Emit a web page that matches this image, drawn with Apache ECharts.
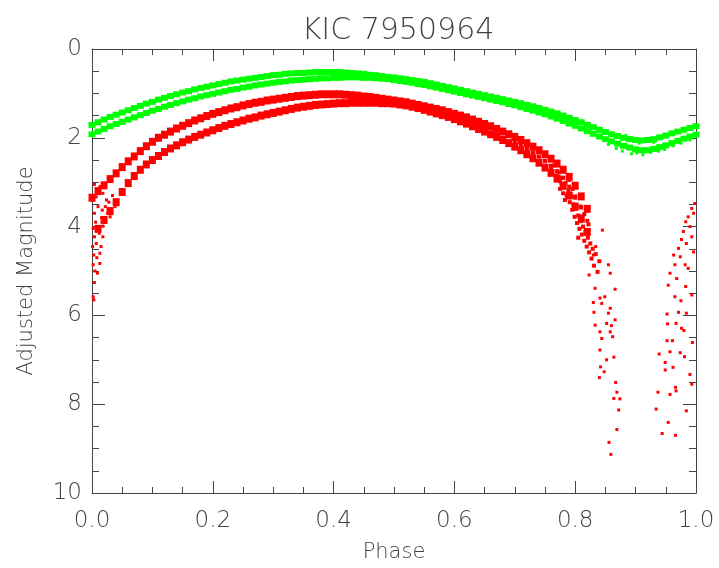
<!DOCTYPE html>
<html>
<head>
<meta charset="utf-8">
<script src="https://cdn.jsdelivr.net/npm/echarts@6/dist/echarts.min.js"></script>
<style>
  html, body { margin: 0; padding: 0; background: #fff; }
  #chart { width: 719px; height: 568px; }
</style>
</head>
<body>
<div id="chart"></div>
<script>
// Phase-folded light curve of KIC 7950964: two passbands, each with two tracks.
const chartTitle = 'KIC 7950964';
const xName = 'Phase';
const yName = 'Adjusted Magnitude';
const xTickValues = [0.0, 0.2, 0.4, 0.6, 0.8, 1.0];
const yTickValues = [0, 2, 4, 6, 8, 10];

// Green passband, brighter track: [phase, magnitude]
const greenUpper = [
  [0.00,1.71],[0.01,1.65],[0.02,1.59],[0.03,1.53],[0.04,1.48],[0.05,1.43],[0.06,1.38],[0.07,1.33],[0.08,1.28],[0.09,1.23],
  [0.10,1.19],[0.11,1.14],[0.12,1.10],[0.13,1.06],[0.14,1.02],[0.15,0.98],[0.16,0.95],[0.17,0.91],[0.18,0.88],[0.19,0.85],
  [0.20,0.82],[0.21,0.79],[0.22,0.76],[0.23,0.73],[0.24,0.71],[0.25,0.69],[0.26,0.67],[0.27,0.65],[0.28,0.63],[0.29,0.61],
  [0.30,0.59],[0.31,0.58],[0.32,0.56],[0.33,0.55],[0.34,0.54],[0.35,0.54],[0.36,0.53],[0.37,0.52],[0.38,0.52],[0.39,0.52],
  [0.40,0.52],[0.41,0.52],[0.42,0.53],[0.43,0.54],[0.44,0.55],[0.45,0.56],[0.46,0.58],[0.47,0.59],[0.48,0.61],[0.49,0.63],
  [0.50,0.64],[0.51,0.66],[0.52,0.68],[0.53,0.70],[0.54,0.72],[0.55,0.74],[0.56,0.77],[0.57,0.80],[0.58,0.83],[0.59,0.86],
  [0.60,0.89],[0.61,0.92],[0.62,0.95],[0.63,0.98],[0.64,1.01],[0.65,1.04],[0.66,1.07],[0.67,1.10],[0.68,1.13],[0.69,1.16],
  [0.70,1.19],[0.71,1.22],[0.72,1.26],[0.73,1.29],[0.74,1.33],[0.75,1.37],[0.76,1.41],[0.77,1.45],[0.78,1.50],[0.79,1.55],
  [0.80,1.60],[0.81,1.65],[0.82,1.71],[0.83,1.76],[0.84,1.82],[0.85,1.87],[0.86,1.92],[0.87,1.96],[0.88,2.00],[0.89,2.03],
  [0.90,2.05],[0.91,2.06],[0.92,2.05],[0.93,2.03],[0.94,1.99],[0.95,1.95],[0.96,1.90],[0.97,1.86],[0.98,1.82],[0.99,1.78],
  [1.00,1.74]
];

// Green passband, fainter track
const greenLower = [
  [0.00,1.92],[0.01,1.86],[0.02,1.80],[0.03,1.74],[0.04,1.69],[0.05,1.64],[0.06,1.59],[0.07,1.54],[0.08,1.49],[0.09,1.44],
  [0.10,1.39],[0.11,1.35],[0.12,1.30],[0.13,1.26],[0.14,1.22],[0.15,1.18],[0.16,1.14],[0.17,1.11],[0.18,1.07],[0.19,1.04],
  [0.20,1.01],[0.21,0.98],[0.22,0.95],[0.23,0.92],[0.24,0.90],[0.25,0.87],[0.26,0.85],[0.27,0.82],[0.28,0.80],[0.29,0.78],
  [0.30,0.76],[0.31,0.74],[0.32,0.73],[0.33,0.71],[0.34,0.70],[0.35,0.69],[0.36,0.68],[0.37,0.67],[0.38,0.66],[0.39,0.66],
  [0.40,0.65],[0.41,0.65],[0.42,0.64],[0.43,0.64],[0.44,0.64],[0.45,0.65],[0.46,0.65],[0.47,0.66],[0.48,0.67],[0.49,0.68],
  [0.50,0.70],[0.51,0.72],[0.52,0.74],[0.53,0.76],[0.54,0.79],[0.55,0.81],[0.56,0.84],[0.57,0.87],[0.58,0.90],[0.59,0.93],
  [0.60,0.96],[0.61,0.99],[0.62,1.02],[0.63,1.05],[0.64,1.08],[0.65,1.11],[0.66,1.14],[0.67,1.17],[0.68,1.20],[0.69,1.24],
  [0.70,1.27],[0.71,1.31],[0.72,1.35],[0.73,1.39],[0.74,1.43],[0.75,1.47],[0.76,1.52],[0.77,1.57],[0.78,1.62],[0.79,1.68],
  [0.80,1.73],[0.81,1.79],[0.82,1.85],[0.83,1.91],[0.84,1.97],[0.85,2.03],[0.86,2.08],[0.87,2.13],[0.88,2.18],[0.89,2.22],
  [0.90,2.26],[0.91,2.28],[0.92,2.28],[0.93,2.25],[0.94,2.21],[0.95,2.17],[0.96,2.12],[0.97,2.07],[0.98,2.02],[0.99,1.97],
  [1.00,1.93]
];

// Stray green points around the secondary minimum
const greenStray = [
  [0.855,2.15],[0.868,2.24],[0.878,2.30],[0.893,2.36],[0.902,2.34],[0.912,2.38],[0.925,2.33],[0.938,2.30],[0.948,2.26],
  [0.884,1.95],[0.906,2.12],[0.930,2.10],[0.962,2.18],[0.975,2.12],[0.990,2.05]
];

// Red passband, brighter track
const redUpper = [
  [0.00,3.35],[0.01,3.20],[0.02,3.07],[0.03,2.93],[0.04,2.80],[0.05,2.66],[0.06,2.53],[0.07,2.42],[0.08,2.30],[0.09,2.19],
  [0.10,2.09],[0.11,2.00],[0.12,1.93],[0.13,1.86],[0.14,1.79],[0.15,1.73],[0.16,1.67],[0.17,1.61],[0.18,1.56],[0.19,1.51],
  [0.20,1.46],[0.21,1.42],[0.22,1.38],[0.23,1.34],[0.24,1.31],[0.25,1.27],[0.26,1.24],[0.27,1.21],[0.28,1.19],[0.29,1.16],
  [0.30,1.14],[0.31,1.12],[0.32,1.10],[0.33,1.08],[0.34,1.06],[0.35,1.05],[0.36,1.04],[0.37,1.03],[0.38,1.02],[0.39,1.02],
  [0.40,1.02],[0.41,1.02],[0.42,1.03],[0.43,1.04],[0.44,1.05],[0.45,1.07],[0.46,1.08],[0.47,1.10],[0.48,1.12],[0.49,1.14],
  [0.50,1.16],[0.51,1.18],[0.52,1.20],[0.53,1.23],[0.54,1.26],[0.55,1.29],[0.56,1.32],[0.57,1.35],[0.58,1.38],[0.59,1.42],
  [0.60,1.46],[0.61,1.50],[0.62,1.54],[0.63,1.59],[0.64,1.64],[0.65,1.69],[0.66,1.74],[0.67,1.80],[0.68,1.86],[0.69,1.92],
  [0.70,1.98],[0.71,2.05],[0.72,2.12],[0.73,2.20],[0.74,2.28],[0.75,2.37],[0.76,2.47],[0.77,2.58],[0.78,2.72],[0.79,2.88],
  [0.80,3.08],[0.81,3.32],[0.82,3.60]
];

// Red passband, fainter track
const redLower = [
  [0.01,4.05],[0.02,3.85],[0.03,3.65],[0.04,3.45],[0.05,3.22],[0.06,3.02],[0.07,2.86],[0.08,2.72],[0.09,2.60],
  [0.10,2.50],[0.11,2.41],[0.12,2.32],[0.13,2.24],[0.14,2.17],[0.15,2.10],[0.16,2.04],[0.17,1.98],[0.18,1.93],[0.19,1.88],
  [0.20,1.83],[0.21,1.78],[0.22,1.73],[0.23,1.69],[0.24,1.65],[0.25,1.61],[0.26,1.57],[0.27,1.54],[0.28,1.50],[0.29,1.47],
  [0.30,1.44],[0.31,1.41],[0.32,1.38],[0.33,1.35],[0.34,1.32],[0.35,1.30],[0.36,1.28],[0.37,1.26],[0.38,1.25],[0.39,1.24],
  [0.40,1.23],[0.41,1.22],[0.42,1.22],[0.43,1.21],[0.44,1.21],[0.45,1.21],[0.46,1.21],[0.47,1.21],[0.48,1.22],[0.49,1.22],
  [0.50,1.23],[0.51,1.25],[0.52,1.27],[0.53,1.30],[0.54,1.33],[0.55,1.37],[0.56,1.41],[0.57,1.45],[0.58,1.49],[0.59,1.53],
  [0.60,1.58],[0.61,1.63],[0.62,1.68],[0.63,1.74],[0.64,1.80],[0.65,1.86],[0.66,1.92],[0.67,1.98],[0.68,2.05],[0.69,2.12],
  [0.70,2.20],[0.71,2.28],[0.72,2.37],[0.73,2.46],[0.74,2.56],[0.75,2.67],[0.76,2.79],[0.77,2.92],[0.78,3.08],[0.79,3.30],
  [0.80,3.55],[0.81,3.82],[0.82,4.12]
];

// Red points filling the widening descent into primary eclipse
const redDescent = [
  [0.70,2.09],[0.71,2.16],[0.72,2.25],[0.73,2.33],[0.74,2.42],[0.75,2.52],[0.76,2.63],[0.77,2.75],[0.78,2.90],[0.79,3.10],
  [0.80,3.32],[0.81,3.57],[0.82,3.87],
  [0.760,2.70],[0.765,2.62],[0.768,2.85],[0.772,2.78],[0.775,2.98],[0.778,2.90],[0.781,3.12],[0.784,3.02],[0.786,3.30],
  [0.789,3.18],[0.791,3.45],[0.793,3.32],[0.795,3.62],[0.797,3.50],[0.799,3.78],[0.801,3.60],[0.803,3.92],[0.805,3.75],
  [0.807,4.05],[0.809,3.88],[0.811,4.18],[0.813,4.00],[0.815,4.32],[0.817,4.12],[0.819,4.45],[0.821,4.25],[0.823,4.58],
  [0.825,4.38],[0.827,4.72],[0.829,4.50],[0.831,4.88],[0.834,4.62],[0.837,5.02],[0.840,4.78],[0.783,3.40],[0.796,3.15],
  [0.809,3.55],[0.822,3.95],[0.805,4.25],[0.815,3.72],[0.790,2.95],[0.780,3.25],[0.770,2.55],[0.775,3.15],[0.800,3.35]
];

// Sparse red points at the bottom of primary eclipse (both sides of phase 0.9)
const redEclipse = [
  [0.866,5.41],[0.858,5.05],[0.855,4.86],[0.845,4.08],[0.834,4.45],[0.830,4.64],[0.823,5.09],[0.833,5.39],[0.841,5.61],
  [0.849,5.58],[0.830,5.71],[0.844,5.73],[0.858,5.84],[0.831,5.93],[0.855,5.95],[0.866,6.10],[0.852,6.18],[0.860,6.23],
  [0.833,6.22],[0.841,6.37],[0.858,6.37],[0.862,6.48],[0.844,6.52],[0.841,6.78],[0.864,6.94],[0.852,7.00],[0.842,7.16],
  [0.848,7.27],[0.840,7.40],[0.867,7.51],[0.869,7.73],[0.864,7.87],[0.874,7.88],[0.872,8.13],[0.869,8.57],[0.856,8.86],
  [0.859,9.13],
  [0.998,3.48],[0.993,3.59],[0.987,3.78],[0.996,3.70],[0.983,3.89],[0.990,4.00],[0.979,4.11],[0.993,4.23],[0.976,4.29],
  [0.984,4.38],[0.971,4.49],[0.996,4.57],[0.963,4.64],[0.974,4.68],[0.982,4.86],[0.965,4.86],[0.987,4.94],[0.957,5.05],
  [0.968,5.17],[0.954,5.32],[0.983,5.35],[0.965,5.58],[0.993,5.54],[0.975,5.67],[0.971,5.93],[0.984,5.95],[0.952,5.97],
  [0.953,6.19],[0.967,6.18],[0.976,6.29],[0.980,6.34],[0.952,6.57],[0.961,6.57],[0.994,6.61],[0.939,6.87],[0.957,6.82],
  [0.974,6.84],[0.949,7.06],[0.981,6.93],[0.962,7.17],[0.949,7.23],[0.990,7.33],[0.993,7.55],[0.966,7.62],[0.957,7.78],
  [0.967,7.70],[0.937,7.73],[0.984,8.15],[0.934,8.11],[0.954,8.41],[0.944,8.66],[0.966,8.70]
];

// Red points scattered just after phase 0 (egress of primary eclipse)
const redEgress = [
  [0.002,3.40],[0.004,3.70],[0.002,4.04],[0.010,4.00],[0.018,3.99],[0.004,4.23],[0.018,4.23],[0.007,4.38],[0.015,4.45],
  [0.003,4.64],[0.013,4.60],[0.002,4.86],[0.013,4.83],[0.009,5.05],[0.004,5.26],[0.002,5.58],[0.003,5.65],[0.021,3.85],
  [0.026,3.70],[0.030,3.78],[0.017,3.63],[0.024,3.40],[0.018,3.25],[0.013,3.10],[0.004,3.05],[0.007,3.33],[0.010,3.55],
  [0.006,3.90],[0.012,4.15],[0.001,4.45],[0.008,4.70],[0.005,5.00],[0.016,3.80],[0.022,3.55],[0.028,3.45],[0.034,3.30],
  [0.038,3.55]
];

const textColor = '#444444';
const frameColor = '#444444';
const fontFamily = '"DejaVu Sans", "Liberation Sans", sans-serif';
const fontWeight = 200;
const green = '#00ff00';
const red = '#ff0000';

const chart = echarts.init(document.getElementById('chart'), null, { renderer: 'canvas' });

const tickStyle = { color: frameColor, width: 1 };

function pointSeries(name, data, color, size, symbol) {
  return {
    type: 'scatter', name, data, symbol: symbol || 'rect', symbolSize: size,
    itemStyle: { color, opacity: 1 }, silent: true
  };
}

const option = {
  backgroundColor: '#ffffff',
  animation: false,
  title: {
    text: chartTitle, left: 393, textAlign: 'center', top: 11,
    textStyle: { color: textColor, fontSize: 30, fontWeight, fontFamily }
  },
  grid: { left: 92, right: 23, top: 49, bottom: 75, containLabel: false },
  xAxis: [
    {
      type: 'value', position: 'bottom', min: 0, max: 1, interval: 0.2,
      name: xName, nameLocation: 'middle', nameGap: 49,
      nameTextStyle: { color: textColor, fontSize: 21, fontWeight, fontFamily },
      axisLine: { show: true, onZero: false, lineStyle: tickStyle },
      axisTick: { show: true, inside: true, length: 12, lineStyle: tickStyle },
      minorTick: { show: true, splitNumber: 4, length: 6, lineStyle: tickStyle },
      axisLabel: {
        color: textColor, fontSize: 23, fontWeight, fontFamily, margin: 17,
        formatter: v => xTickValues.includes(Math.round(v * 10) / 10) ? v.toFixed(1) : ''
      },
      splitLine: { show: false }
    },
    {
      type: 'value', position: 'top', min: 0, max: 1, interval: 0.2,
      axisLine: { show: true, onZero: false, lineStyle: tickStyle },
      axisTick: { show: true, inside: true, length: 12, lineStyle: tickStyle },
      minorTick: { show: true, splitNumber: 4, length: 6, lineStyle: tickStyle },
      axisLabel: { show: false }, splitLine: { show: false }
    }
  ],
  yAxis: [
    {
      type: 'value', position: 'left', inverse: true, min: 0, max: 10, interval: 2,
      name: yName, nameLocation: 'middle', nameGap: 55, nameRotate: 90,
      nameTextStyle: { color: textColor, fontSize: 21, fontWeight, fontFamily },
      axisLine: { show: true, onZero: false, lineStyle: tickStyle },
      axisTick: { show: true, inside: true, length: 13, lineStyle: tickStyle },
      minorTick: { show: true, splitNumber: 4, length: 7, lineStyle: tickStyle },
      axisLabel: {
        color: textColor, fontSize: 23, fontWeight, fontFamily, margin: 10,
        formatter: v => yTickValues.includes(v) ? String(v) : ''
      },
      splitLine: { show: false }
    },
    {
      type: 'value', position: 'right', inverse: true, min: 0, max: 10, interval: 2,
      axisLine: { show: true, onZero: false, lineStyle: tickStyle },
      axisTick: { show: true, inside: true, length: 13, lineStyle: tickStyle },
      minorTick: { show: true, splitNumber: 4, length: 7, lineStyle: tickStyle },
      axisLabel: { show: false }, splitLine: { show: false }
    }
  ],
  series: [
    pointSeries('green bright', greenUpper, green, [7, 6]),
    pointSeries('green faint', greenLower, green, [7, 6]),
    pointSeries('green stray', greenStray, green, 3),
    pointSeries('red bright', redUpper, red, [7, 8]),
    pointSeries('red faint', redLower, red, [7, 8]),
    pointSeries('red descent', redDescent, red, 4),
    pointSeries('red eclipse', redEclipse, red, 3),
    pointSeries('red egress', redEgress, red, 3)
  ]
};

chart.setOption(option);
</script>
</body>
</html>
